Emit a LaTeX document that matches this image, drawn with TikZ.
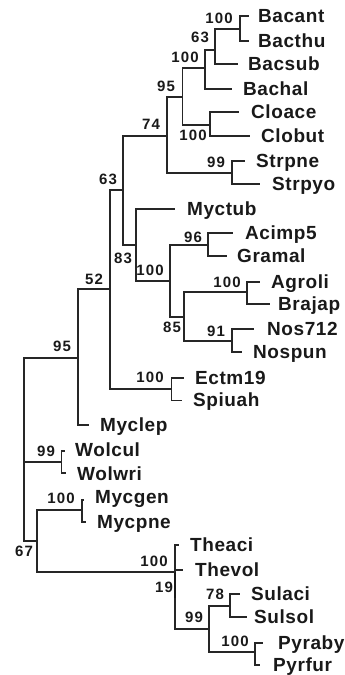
\documentclass[tikz,border=0pt]{standalone}
\usepackage{fontspec}
\newfontfamily\leaffont[LetterSpace=3]{Liberation Sans}
\newfontfamily\bsfont[LetterSpace=8]{Liberation Sans}
\begin{document}
\begin{tikzpicture}[x=1pt,y=-1pt,
  leaf/.style={anchor=base west, inner sep=0pt, text=black!90, font=\leaffont\bfseries\fontsize{19}{21}\selectfont},
  bs/.style={anchor=center, inner sep=0pt, text=black!90, font=\bsfont\bfseries\fontsize{15}{17}\selectfont},
  br/.style={line width=1.2pt, draw=black!85},
  thickbr/.style={line width=2.6pt, draw=black!90}]
\useasboundingbox (0,0) rectangle (345,675);

% internal nodes
\coordinate (nBB) at (240,29);
\coordinate (n63a) at (215,50);
\coordinate (n100a) at (205,68);
\coordinate (nClo) at (210,125);
\coordinate (n95a) at (182.7,97);
\coordinate (nStr) at (232,173);
\coordinate (n74) at (167,136);
\coordinate (n96) at (208,245);
\coordinate (nAB) at (247,292);
\coordinate (n91) at (232,341);
\coordinate (n85) at (184,317);
\coordinate (n100b) at (170,281);
\coordinate (n83) at (136,245);
\coordinate (n63b) at (123,190);
\coordinate (nEc) at (171.7,389);
\coordinate (n52) at (110,289);
\coordinate (n95b) at (78,358);
\coordinate (nWol) at (61.7,462);
\coordinate (nMyc) at (82,510);
\coordinate (nThe) at (175,572);
\coordinate (n19) at (175,598);
\coordinate (n78) at (230,606);
\coordinate (nPyr) at (255,652);
\coordinate (n99) at (209,629);
\coordinate (n67) at (37,541);
\coordinate (root) at (24,450);

% tips
\coordinate (tBacant) at (249,16);
\coordinate (tBacthu) at (249,41);
\coordinate (tBacsub) at (238,64);
\coordinate (tBachal) at (232,89);
\coordinate (tCloace) at (239,112);
\coordinate (tClobut) at (250,136);
\coordinate (tStrpne) at (245,161);
\coordinate (tStrpyo) at (260,184);
\coordinate (tMyctub) at (175,209);
\coordinate (tAcimp5) at (233,233);
\coordinate (tGramal) at (227,256);
\coordinate (tAgroli) at (260,282);
\coordinate (tBrajap) at (270,304);
\coordinate (tNos712) at (254,329);
\coordinate (tNospun) at (242,352);
\coordinate (tEctm19) at (184,378);
\coordinate (tSpiuah) at (182,400.5);
\coordinate (tMyclep) at (89,425);
\coordinate (tWolcul) at (65,451);
\coordinate (tWolwri) at (66,473);
\coordinate (tMycgen) at (84,500);
\coordinate (tMycpne) at (86,522);
\coordinate (tTheaci) at (179,545);
\coordinate (tThevol) at (183,570);
\coordinate (tSulaci) at (240,594);
\coordinate (tSulsol) at (247,617);
\coordinate (tPyraby) at (263,643);
\coordinate (tPyrfur) at (260,665);

% branches
\draw[br] (nBB) |- (tBacant);
\draw[br] (nBB) |- (tBacthu);
\draw[br] (n63a) |- (nBB);
\draw[br] (n63a) |- (tBacsub);
\draw[br] (n100a) |- (n63a);
\draw[br] (n100a) |- (tBachal);
\draw[br] (nClo) |- (tCloace);
\draw[br] (nClo) |- (tClobut);
\draw[br] (n95a) |- (n100a);
\draw[br] (n95a) |- (nClo);
\draw[br] (nStr) |- (tStrpne);
\draw[br] (nStr) |- (tStrpyo);
\draw[br] (n74) |- (n95a);
\draw[br] (n74) |- (nStr);
\draw[br] (n96) |- (tAcimp5);
\draw[br] (n96) |- (tGramal);
\draw[br] (nAB) |- (tAgroli);
\draw[br] (nAB) |- (tBrajap);
\draw[br] (n91) |- (tNos712);
\draw[br] (n91) |- (tNospun);
\draw[br] (n85) |- (nAB);
\draw[br] (n85) |- (n91);
\draw[br] (n100b) |- (n96);
\draw[br] (n100b) |- (n85);
\draw[br] (n83) |- (tMyctub);
\draw[br] (n83) |- (n100b);
\draw[br] (n63b) |- (n74);
\draw[br] (n63b) |- (n83);
\draw[br] (nEc) |- (tEctm19);
\draw[br] (nEc) |- (tSpiuah);
\draw[br] (n52) |- (n63b);
\draw[br] (n52) |- (nEc);
\draw[br] (n95b) |- (n52);
\draw[br] (n95b) |- (tMyclep);
\draw[br] (nWol) |- (tWolcul);
\draw[br] (nWol) |- (tWolwri);
\draw[br] (nMyc) |- (tMycgen);
\draw[br] (nMyc) |- (tMycpne);
\draw[br] (nThe) |- (tTheaci);
\draw[br] (nThe) |- (tThevol);
\draw[br] (nThe) |- (n99);
\draw[thickbr] (nThe) -- (n19);
\draw[br] (n78) |- (tSulaci);
\draw[br] (n78) |- (tSulsol);
\draw[br] (nPyr) |- (tPyraby);
\draw[br] (nPyr) |- (tPyrfur);
\draw[br] (n99) |- (n78);
\draw[br] (n99) |- (nPyr);
\draw[br] (n67) |- (nMyc);
\draw[br] (n67) |- (nThe);
\draw[br,line width=1.7pt] (root) |- (n95b);
\draw[br] (root) |- (nWol);
\draw[br,line width=1.7pt] (root) |- (n67);

% leaf labels
\node[leaf] (Bacant) at (258,22.8) {Bacant};
\node[leaf] (Bacthu) at (258,47.8) {Bacthu};
\node[leaf] (Bacsub) at (248,70.8) {Bacsub};
\node[leaf] (Bachal) at (243,95.8) {Bachal};
\node[leaf] (Cloace) at (251,118.8) {Cloace};
\node[leaf] (Clobut) at (261,142.8) {Clobut};
\node[leaf] (Strpne) at (256,167.8) {Strpne};
\node[leaf] (Strpyo) at (272,190.8) {Strpyo};
\node[leaf] (Myctub) at (187,215.8) {Myctub};
\node[leaf] (Acimp5) at (245,239.8) {Acimp5};
\node[leaf] (Gramal) at (237,262.8) {Gramal};
\node[leaf] (Agroli) at (271,288.8) {Agroli};
\node[leaf] (Brajap) at (278,310.8) {Brajap};
\node[leaf] (Nos712) at (267,335.8) {Nos712};
\node[leaf] (Nospun) at (253,358.8) {Nospun};
\node[leaf] (Ectm19) at (195,384.8) {Ectm19};
\node[leaf] (Spiuah) at (193,406.8) {Spiuah};
\node[leaf] (Myclep) at (100,431.8) {Myclep};
\node[leaf] (Wolcul) at (75,456.8) {Wolcul};
\node[leaf] (Wolwri) at (77,480.8) {Wolwri};
\node[leaf] (Mycgen) at (95,503.8) {Mycgen};
\node[leaf] (Mycpne) at (97,528.8) {Mycpne};
\node[leaf] (Theaci) at (190,551.8) {Theaci};
\node[leaf] (Thevol) at (195,576.8) {Thevol};
\node[leaf] (Sulaci) at (251,600.8) {Sulaci};
\node[leaf] (Sulsol) at (254,623.8) {Sulsol};
\node[leaf] (Pyraby) at (278,649.8) {Pyraby};
\node[leaf] (Pyrfur) at (273,671.8) {Pyrfur};

% bootstrap values
\node[bs] (b1) at (219,18.5) {100};
\node[bs] (b2) at (200,37) {63};
\node[bs] (b3) at (185,57) {100};
\node[bs] (b4) at (166,86) {95};
\node[bs] (b5) at (151,124) {74};
\node[bs] (b6) at (193,135) {100};
\node[bs] (b7) at (216,162) {99};
\node[bs] (b8) at (108,179) {63};
\node[bs] (b9) at (193,237) {96};
\node[bs] (b10) at (123,258) {83};
\node[bs] (b11) at (150,270) {100};
\node[bs] (b12) at (94,279) {52};
\node[bs] (b13) at (227,282) {100};
\node[bs] (b14) at (172,327) {85};
\node[bs] (b15) at (216,331) {91};
\node[bs] (b16) at (150,377) {100};
\node[bs] (b17) at (62,346) {95};
\node[bs] (b18) at (46,451) {99};
\node[bs] (b19) at (61,498) {100};
\node[bs] (b20) at (24,551) {67};
\node[bs] (b21) at (154,561) {100};
\node[bs] (b22) at (164,587) {19};
\node[bs] (b23) at (215,594) {78};
\node[bs] (b24) at (194,617) {99};
\node[bs] (b25) at (235,641) {100};
\end{tikzpicture}
\end{document}
